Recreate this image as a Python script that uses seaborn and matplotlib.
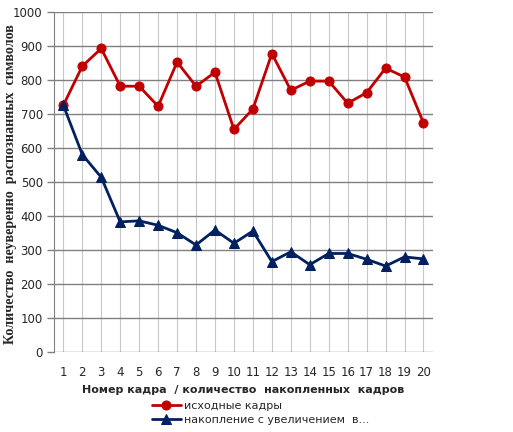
import numpy as np
import pandas as pd
import matplotlib
matplotlib.use("Agg")
import matplotlib.pyplot as plt
import seaborn as sns

frames = list(range(1, 21))
original = [726, 841, 893, 782, 782, 723, 853, 782, 823, 655,
            715, 878, 770, 797, 797, 732, 763, 835, 809, 674]
accumulated = [726, 581, 514, 383, 386, 373, 351, 315, 359, 320,
               356, 266, 295, 257, 290, 290, 273, 253, 280, 274]
series_names = ["исходные кадры", "накопление с увеличением  в..."]
y_ticks = list(range(0, 1001, 100))

sns.set_style("white")
plt.rcParams['font.family'] = ['DejaVu Sans']

fig = plt.figure(figsize=(5.13, 4.32), dpi=100)
ax = fig.add_axes([0.105, 0.185, 0.739, 0.787])

sns.lineplot(x=frames, y=original, ax=ax, color="#c00000", marker="o",
             markersize=6.5, markeredgecolor="#c00000", linewidth=2,
             label=series_names[0])
sns.lineplot(x=frames, y=accumulated, ax=ax, color="#002060", marker="^",
             markersize=6.5, markeredgecolor="#002060", linewidth=2,
             label=series_names[1])

ax.set_xlim(0.5, 20.5)
ax.set_ylim(0, 1000)
ax.set_xticks(frames)
ax.set_yticks(y_ticks)
ax.tick_params(axis='x', labelsize=8.5, length=0, pad=10)
ax.tick_params(axis='y', labelsize=8.5, length=5, width=1, color="#808080",
               pad=3, left=True)
ax.grid(axis='y', color="#808080", linewidth=1)
ax.grid(axis='x', color="#c8c8c8", linewidth=0.8)
ax.set_axisbelow(True)
for s in ['top', 'right', 'bottom']:
    ax.spines[s].set_visible(False)
ax.spines['left'].set_color("#808080")

ax.set_ylabel("Количество  неуверенно  распознанных  символов",
              family="Liberation Serif", fontweight="bold", fontsize=10.2)
ax.yaxis.set_label_coords(-0.098, 0.494)
ax.set_xlabel("Номер кадра  / количество  накопленных  кадров",
              fontweight="bold", fontsize=8)
ax.xaxis.set_label_coords(0.499, -0.098)

ax.legend(loc="upper left", bbox_to_anchor=(0.285, 0.085),
          bbox_transform=fig.transFigure, frameon=False, fontsize=8,
          handlelength=2.6, borderpad=0, labelspacing=0.4, handletextpad=0.3)

fig.savefig("out.png", dpi=100)
